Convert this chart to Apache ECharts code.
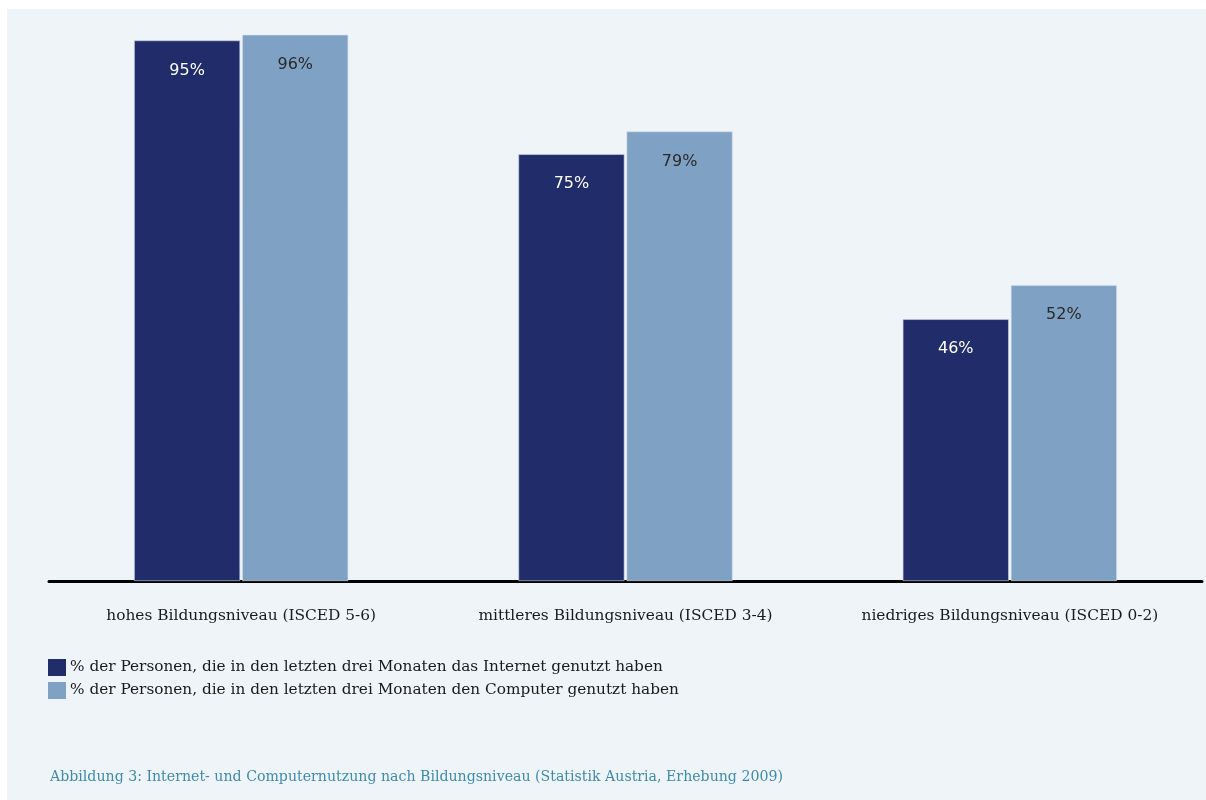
<!DOCTYPE html>
<html>
<head>
<meta charset="utf-8">
<script src="https://cdn.jsdelivr.net/npm/echarts@6/dist/echarts.min.js"></script>
<style>
html,body{margin:0;padding:0;background:#ffffff;}
#c{width:1206px;height:800px;}
</style>
</head>
<body>
<div id="c"></div>
<script>
const categories = ['hohes Bildungsniveau (ISCED 5-6)', 'mittleres Bildungsniveau (ISCED 3-4)', 'niedriges Bildungsniveau (ISCED 0-2)'];
const seriesNames = ['% der Personen, die in den letzten drei Monaten das Internet genutzt haben', '% der Personen, die in den letzten drei Monaten den Computer genutzt haben'];
const internetValues = [95, 75, 46];
const computerValues = [96, 79, 52];
const caption = 'Abbildung 3: Internet- und Computernutzung nach Bildungsniveau (Statistik Austria, Erhebung 2009)';

const chart = echarts.init(document.getElementById('c'));
const serif = '"DejaVu Serif", "Liberation Serif", serif';
chart.setOption({
  backgroundColor: '#ffffff',
  animation: false,
  graphic: [
    { type: 'rect', z: -10, shape: { x: 7, y: 9, width: 1199, height: 791 }, style: { fill: '#eff4f9' } },
    { type: 'text', left: 50, top: 770, style: { text: caption, fill: '#3f8bab', font: '14.15px "DejaVu Serif", serif' } }
  ],
  grid: { left: 49, right: 4, top: 12, bottom: 219 },
  legend: {
    orient: 'vertical', left: 48, top: 659, padding: 0, itemWidth: 18, itemHeight: 17, itemGap: 6,
    icon: 'rect',
    itemStyle: { borderWidth: 0 },
    textStyle: { fontFamily: serif, fontSize: 15.3, color: '#1a1a1a', padding: [0, 0, 0, -1] },
    data: seriesNames
  },
  xAxis: {
    type: 'category', data: categories,
    axisLine: { lineStyle: { color: '#000', width: 3 } },
    axisTick: { show: false },
    axisLabel: { interval: 0, hideOverlap: false, margin: 27, fontFamily: serif, fontSize: 15.4, color: '#1a1a1a' }
  },
  yAxis: { type: 'value', min: 0, max: 100, show: false, splitLine: { show: false } },
  series: [
    {
      name: seriesNames[0], type: 'bar', data: internetValues, barWidth: 106, barGap: '2%',
      itemStyle: { color: '#212d6b', borderColor: '#c9d3e3', borderWidth: 0.6 },
      label: { show: true, position: 'insideTop', distance: 22, formatter: '{c}%', color: '#ffffff', fontFamily: '"DejaVu Sans", sans-serif', fontSize: 16 }
    },
    {
      name: seriesNames[1], type: 'bar', data: computerValues, barWidth: 106,
      itemStyle: { color: '#7fa1c3', borderColor: '#d6deea', borderWidth: 0.6 },
      label: { show: true, position: 'insideTop', distance: 22, formatter: '{c}%', color: '#2a2a2a', fontFamily: '"DejaVu Sans", sans-serif', fontSize: 16 }
    }
  ]
});
</script>
</body>
</html>
